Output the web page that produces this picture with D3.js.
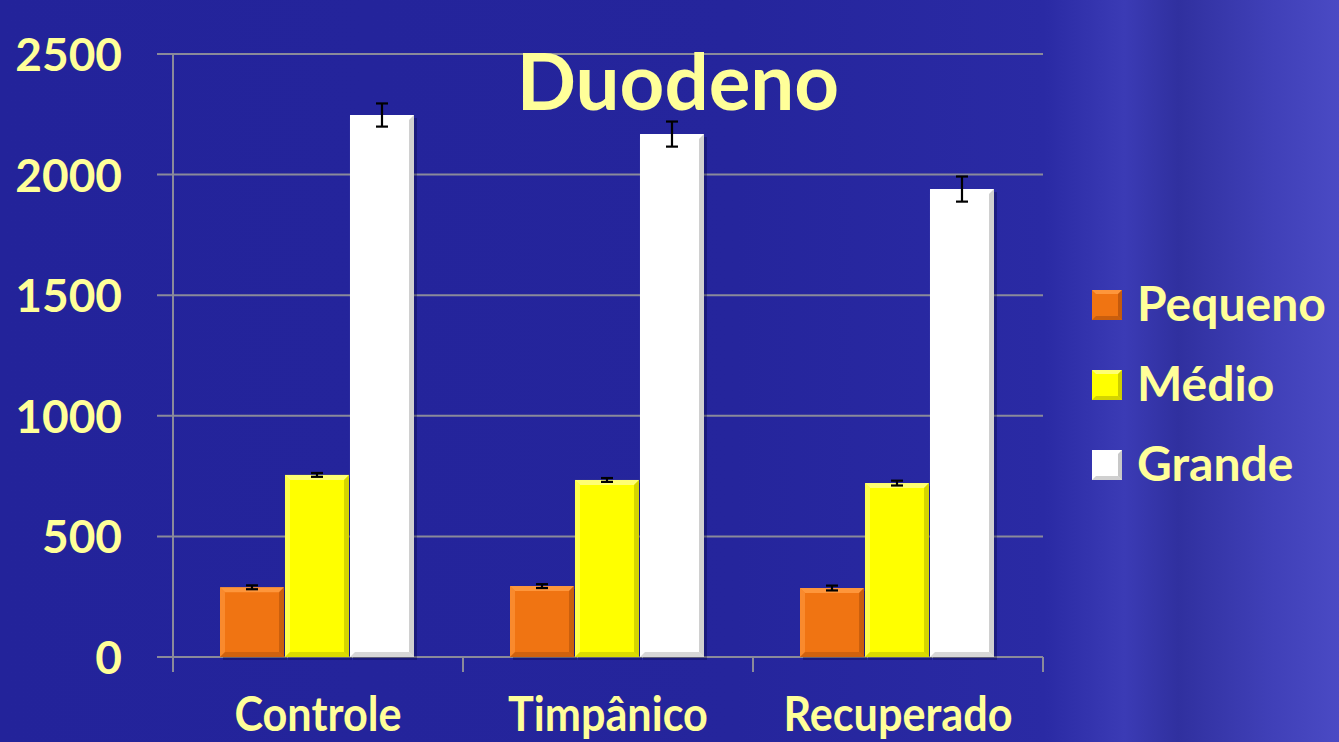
<!DOCTYPE html>
<html><head><meta charset="utf-8">
<script src="https://cdn.jsdelivr.net/npm/d3@7/dist/d3.min.js"></script>
<style>html,body{margin:0;padding:0;overflow:hidden;background:#23239a}</style>
</head><body><svg id="c" width="1339" height="742"></svg>
<script>
const categories = ["Controle", "Timpânico", "Recuperado"];
const seriesNames = ["Pequeno", "Médio", "Grande"];
const pequeno = [289, 294, 286];
const medio = [755, 734, 721];
const grande = [2247, 2168, 1940];
const errPequeno = [8, 8, 10];
const errMedio = [8, 8, 10];
const errGrande = [48, 52, 52];
const yTicks = [0, 500, 1000, 1500, 2000, 2500];
const title = "Duodeno";

(function(){
const values = [pequeno, medio, grande];
const errors = [errPequeno, errMedio, errGrande];
const colors = ["#f07412", "#ffff00", "#ffffff"];
const darks = ["#b0500a", "#b8b800", "#b0b0b0"];
const lights = ["#ff9a40", "#ffff80", "#ffffff"];
const textColor = "#ffff99";
const font = "Lato, 'Open Sans', sans-serif";

const svg = d3.select("#c");
const defs = svg.append("defs");
const bg = defs.append("linearGradient").attr("id","bg").attr("x1","0").attr("x2","1").attr("y1","0").attr("y2","0");
[[0,"#23239a"],[0.55,"#25259c"],[0.78,"#2a2aa4"],[0.84,"#3b3bb5"],[0.88,"#30309f"],[0.95,"#4040b8"],[1,"#4a4ac4"]].forEach(s=>bg.append("stop").attr("offset",s[0]).attr("stop-color",s[1]));
svg.append("rect").attr("width",1339).attr("height",742).attr("fill","url(#bg)");

const pL = 173, pR = 1043, pT = 54, pB = 657;
const y = d3.scaleLinear().domain([0, 2500]).range([pB, pT]);
const x0 = d3.scaleBand().domain(categories).range([pL, pR]).padding(0);
const x1 = d3.scaleBand().domain(seriesNames).range([47, 241]).paddingInner(0.015);

svg.append("g").selectAll("line").data(yTicks).join("line")
  .attr("x1", pL - 16).attr("x2", pR)
  .attr("y1", d => y(d)).attr("y2", d => y(d))
  .attr("stroke", "#8a8a9a").attr("stroke-width", 2);
svg.append("line").attr("x1", pL).attr("x2", pL).attr("y1", pT).attr("y2", pB + 15)
  .attr("stroke", "#8a8a9a").attr("stroke-width", 2);
const xb = categories.map(c => x0(c)).concat([pR]);
svg.append("g").selectAll("line").data(xb).join("line")
  .attr("x1", d => d).attr("x2", d => d).attr("y1", pB).attr("y2", pB + 15)
  .attr("stroke", "#8a8a9a").attr("stroke-width", 2);

svg.append("g").selectAll("text").data(yTicks).join("text")
  .attr("x", 122).attr("y", d => y(d) + 17)
  .attr("text-anchor", "end").attr("fill", textColor)
  .attr("font-family", font).attr("font-weight", "bold").attr("font-size", 46)
  .text(d => d);

svg.append("g").selectAll("text").data(categories).join("text")
  .attr("transform", d => `translate(${x0(d) + x0.bandwidth() / 2},731) scale(0.96,1.04)`)
  .attr("text-anchor", "middle").attr("fill", textColor)
  .attr("font-family", font).attr("font-weight", "bold").attr("font-size", 45)
  .text(d => d);

const bars = [];
categories.forEach((c, ci) => seriesNames.forEach((s, si) => bars.push({c, s, si, v: values[si][ci], e: errors[si][ci]})));
const bw = x1.bandwidth();
const g = svg.append("g");
const bevel = 5;
bars.forEach(b => {
  const bx = x0(b.c) + x1(b.s), by = y(b.v), bh = y(0) - y(b.v);
  g.append("rect").attr("x", bx + 3).attr("y", by + 3).attr("width", bw).attr("height", bh)
    .attr("fill", "#000033").attr("opacity", 0.3);
  g.append("rect").attr("x", bx).attr("y", by).attr("width", bw).attr("height", bh).attr("fill", colors[b.si]);
  g.append("polygon").attr("points", `${bx},${by} ${bx+bw},${by} ${bx+bw-bevel},${by+bevel} ${bx+bevel},${by+bevel}`).attr("fill", lights[b.si]).attr("opacity", 0.9);
  g.append("polygon").attr("points", `${bx},${by} ${bx+bevel},${by+bevel} ${bx+bevel},${by+bh-bevel} ${bx},${by+bh}`).attr("fill", lights[b.si]).attr("opacity", 0.6);
  g.append("polygon").attr("points", `${bx+bw},${by} ${bx+bw},${by+bh} ${bx+bw-bevel},${by+bh-bevel} ${bx+bw-bevel},${by+bevel}`).attr("fill", darks[b.si]).attr("opacity", 0.6);
  g.append("polygon").attr("points", `${bx},${by+bh} ${bx+bw},${by+bh} ${bx+bw-bevel},${by+bh-bevel} ${bx+bevel},${by+bh-bevel}`).attr("fill", darks[b.si]).attr("opacity", 0.5);
  const cx = bx + bw / 2;
  const eg = g.append("g").attr("stroke", "#000").attr("stroke-width", 2.2);
  eg.append("line").attr("x1", cx).attr("x2", cx).attr("y1", y(b.v + b.e)).attr("y2", y(b.v - b.e));
  eg.append("line").attr("x1", cx - 6).attr("x2", cx + 6).attr("y1", y(b.v + b.e)).attr("y2", y(b.v + b.e));
  eg.append("line").attr("x1", cx - 6).attr("x2", cx + 6).attr("y1", y(b.v - b.e)).attr("y2", y(b.v - b.e));
});

svg.append("text").attr("x", 678).attr("y", 110).attr("text-anchor", "middle")
  .attr("fill", textColor).attr("font-family", font).attr("font-weight", "bold").attr("font-size", 78)
  .text(title);

const lg = svg.append("g");
seriesNames.forEach((s, i) => {
  const ly = 290 + i * 80;
  const lx = 1092, sz = 30, bv = 4;
  lg.append("rect").attr("x", lx).attr("y", ly).attr("width", sz).attr("height", sz).attr("fill", colors[i]);
  lg.append("polygon").attr("points", `${lx},${ly} ${lx+sz},${ly} ${lx+sz-bv},${ly+bv} ${lx+bv},${ly+bv}`).attr("fill", lights[i]).attr("opacity", 0.9);
  lg.append("polygon").attr("points", `${lx+sz},${ly} ${lx+sz},${ly+sz} ${lx+sz-bv},${ly+sz-bv} ${lx+sz-bv},${ly+bv}`).attr("fill", darks[i]).attr("opacity", 0.7);
  lg.append("polygon").attr("points", `${lx},${ly+sz} ${lx+sz},${ly+sz} ${lx+sz-bv},${ly+sz-bv} ${lx+bv},${ly+sz-bv}`).attr("fill", darks[i]).attr("opacity", 0.6);
  lg.append("text").attr("x", 1137).attr("y", ly + 31).attr("fill", textColor)
    .attr("font-family", font).attr("font-weight", "bold").attr("font-size", 48).text(s);
});
})();
</script></body></html>
